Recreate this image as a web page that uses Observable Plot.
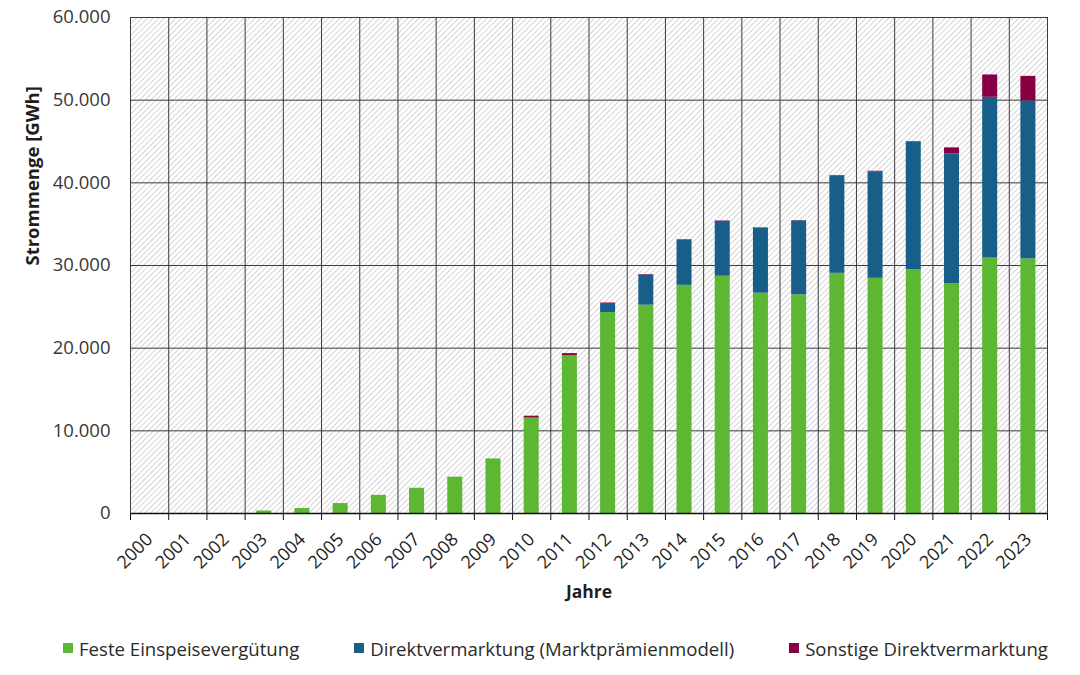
<!DOCTYPE html>
<html>
<head>
<meta charset="utf-8">
<script src="https://cdn.jsdelivr.net/npm/d3@7"></script>
<script src="https://cdn.jsdelivr.net/npm/@observablehq/plot@0.6"></script>
<style>
  body { margin: 0; background: #fff; font-family: "Open Sans", sans-serif; }
  #chart svg { display: block; }
  #legend { display: flex; align-items: center; padding-left: 63px; gap: 55px; height: 40px; margin-top: 8px; font-size: 18.6px; color: #2a2a2a; }
  .item { display: flex; align-items: center; white-space: nowrap; }
  .sw { width: 10px; height: 10px; margin-right: 6px; display: inline-block; }
</style>
</head>
<body>
<div id="chart"></div>
<div id="legend"></div>
<script>
const years = [2000,2001,2002,2003,2004,2005,2006,2007,2008,2009,2010,2011,2012,2013,2014,2015,2016,2017,2018,2019,2020,2021,2022,2023];
const seriesNames = ["Feste Einspeisevergütung", "Direktvermarktung (Marktprämienmodell)", "Sonstige Direktvermarktung"];
const colors = ["#5db732", "#175f88", "#870043"];
const feste =        [0,0,0,300,600,1200,2200,3050,4400,6600,11550,19100,24300,25200,27600,28700,26650,26450,29050,28450,29500,27800,30900,30800];
const marktpraemie = [0,0,0,0,0,0,0,0,0,0,0,0,1100,3650,5480,6640,7860,8940,11780,12900,15440,15700,19450,19100];
const sonstige =     [0,0,0,0,0,0,0,0,0,0,220,240,60,60,50,50,50,50,60,50,50,730,2700,2980];
const yTicks = [0,10000,20000,30000,40000,50000,60000];

const table = [];
years.forEach((yr, i) => {
  table.push({year: yr, series: seriesNames[0], value: feste[i]});
  table.push({year: yr, series: seriesNames[1], value: marktpraemie[i]});
  table.push({year: yr, series: seriesNames[2], value: sonstige[i]});
});
const boundaries = years.concat([years[years.length - 1] + 1]);
const centers = years.map(y => y + 0.5);
const fmt = d => d3.format(",")(d).replace(/,/g, ".");

const chart = Plot.plot({
  width: 1080,
  height: 620,
  marginLeft: 130,
  marginRight: 33,
  marginTop: 17,
  marginBottom: 107,
  style: {fontFamily: "Open Sans", fontSize: "17px", color: "#333", background: "transparent", overflow: "visible"},
  x: {domain: [years[0], years[years.length - 1] + 1], axis: null},
  y: {domain: [0, 60000], axis: null},
  color: {domain: seriesNames, range: colors},
  marks: [
    Plot.frame({fill: "url(#hatch)", stroke: "none"}),
    Plot.gridY({ticks: yTicks, stroke: "#3c3c3c", strokeOpacity: 1, strokeWidth: 1}),
    Plot.gridX({ticks: boundaries, stroke: "#3c3c3c", strokeOpacity: 1, strokeWidth: 1}),
    Plot.rectY(table, {x1: "year", x2: d => d.year + 1, y: "value", fill: "series", order: seriesNames, insetLeft: 11.6, insetRight: 11.6}),
    Plot.frame({stroke: "#3c3c3c"}),
    Plot.ruleY([0], {stroke: "#111", strokeWidth: 1.6}),
    Plot.axisY({ticks: yTicks, tickSize: 0, tickPadding: 20, tickFormat: fmt, fontSize: 18.5, fill: "#383838", label: null}),
    Plot.axisX({ticks: boundaries, tickSize: 7, tickFormat: () => "", stroke: "#111", label: null}),
    Plot.axisX({ticks: centers, tickSize: 0, tickPadding: 23, tickRotate: -45, tickFormat: d => String(d - 0.5), fontSize: 18, fill: "#1e1e1e", label: null}),
    Plot.text(["Jahre"], {frameAnchor: "bottom", dy: 84, fontWeight: "bold", fontSize: 17.5, fill: "#1e1e1e"}),
    Plot.text(["Strommenge [GWh]"], {frameAnchor: "left", dx: -97, rotate: -90, fontWeight: "bold", fontSize: 18.5, fill: "#1e1e1e"})
  ]
});

// hatch pattern for the plot background
const ns = "http://www.w3.org/2000/svg";
const defs = document.createElementNS(ns, "defs");
defs.innerHTML = '<pattern id="hatch" patternUnits="userSpaceOnUse" width="4" height="4" patternTransform="rotate(45)">' +
  '<rect width="4" height="4" fill="#ffffff"/><line x1="0" y1="0" x2="0" y2="4" stroke="#bdbdbd" stroke-width="1.3"/></pattern>';
chart.insertBefore(defs, chart.firstChild);
document.getElementById("chart").appendChild(chart);

const legend = document.getElementById("legend");
seriesNames.forEach((name, i) => {
  const it = document.createElement("div");
  it.className = "item";
  it.innerHTML = `<span class="sw" style="background:${colors[i]}"></span><span>${name}</span>`;
  legend.appendChild(it);
});
</script>
</body>
</html>
